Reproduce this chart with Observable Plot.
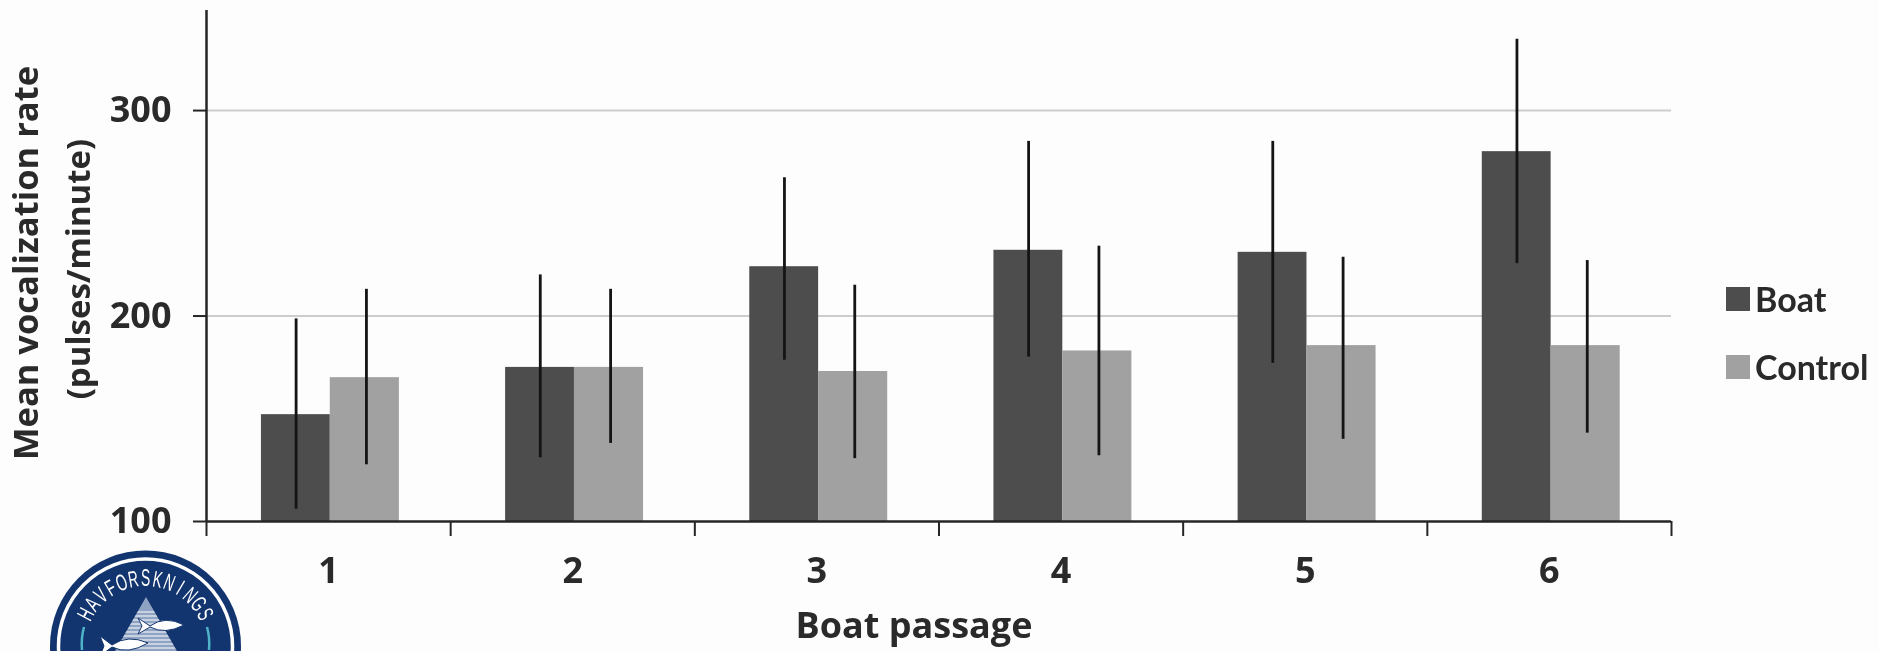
<!DOCTYPE html>
<html>
<head>
<meta charset="utf-8">
<script src="https://cdn.jsdelivr.net/npm/d3@7"></script>
<script src="https://cdn.jsdelivr.net/npm/@observablehq/plot@0.6"></script>
<style>
html,body{margin:0;padding:0;background:#fdfdfd;overflow:hidden}
#wrap{position:relative;width:1879px;height:651px;font-family:Lato,sans-serif;color:#2a2a2a}
#chart svg{display:block;background:transparent;filter:blur(.6px)}
.lg{position:absolute;left:1726px;display:flex;align-items:center;gap:5px;font-size:34px;font-weight:700;line-height:1;filter:blur(.5px)}
.lg i{display:block;width:24px;height:24px}
#logo{position:absolute;left:0;top:0;filter:blur(.6px)}
</style>
</head>
<body>
<div id="wrap">
<div id="chart"></div>
<div class="lg" id="lg0" style="top:282px"></div>
<div class="lg" id="lg1" style="top:350px"></div>
<svg id="logo" width="300" height="651" viewBox="0 0 300 651">
  <defs>
    <clipPath id="tri"><path d="M146 597 L205 700 L87 700 Z"/></clipPath>
  </defs>
  <circle cx="145.5" cy="646" r="95.5" fill="#13356f"/>
  <circle cx="145.5" cy="646" r="87" fill="none" stroke="#fff" stroke-width="3.5"/>
  <path d="M 82 650 A 64 64 0 0 1 84 627" fill="none" stroke="#4fb3c8" stroke-width="2.5"/>
  <path d="M 209 650 A 64 64 0 0 0 207 627" fill="none" stroke="#4fb3c8" stroke-width="2.5"/>
  <g id="logoText" font-family="'Liberation Sans',sans-serif" font-size="23" fill="#fff" text-anchor="middle"></g>
  <g clip-path="url(#tri)">
    <rect x="80" y="595" width="130" height="60" fill="#8fa3c2"/>
    <g stroke="#fff" stroke-width="1.2">
      <path d="M80 612H210M80 616H210M80 620H210M80 624H210M80 628H210M80 632H210M80 636H210M80 640H210M80 644H210M80 648H210"/>
    </g>
  </g>
  <path d="M138 618 L150 626 Q165 615 184 625 Q165 635 150 627 L138 634 L142 626 Z" fill="#fff" stroke="#13356f" stroke-width="1"/>
  <path d="M100 636 L112 645 Q128 634 148 643 Q128 655 112 647 L100 656 L104 646 Z" fill="#fff" stroke="#13356f" stroke-width="1"/>
</svg>
</div>
<script>
const passages = ["1", "2", "3", "4", "5", "6"];
const series = ["Boat", "Control"];
const boatMean = [152, 175, 224, 232, 231, 280];
const boatLow = [106, 131, 178.5, 180, 177, 225.5];
const boatHigh = [198.6, 220, 267.3, 285, 285, 334.7];
const controlMean = [170, 175, 173, 183, 185.6, 185.6];
const controlLow = [127.6, 138, 130.6, 132, 140, 143];
const controlHigh = [213, 213, 215, 234, 228.6, 227];
const gridValues = [200, 300];
const yTicks = [100, 200, 300];
const colors = ["#4d4d4d", "#a1a1a1"];
const textColor = "#2a2a2a";
const axisColor = "#262626";
const logoWord = "HAVFORSKNINGS";

const rows = passages.map((p, i) => ({
  i, boatMean: boatMean[i], boatLow: boatLow[i], boatHigh: boatHigh[i],
  controlMean: controlMean[i], controlLow: controlLow[i], controlHigh: controlHigh[i]
}));
const boundaries = d3.range(passages.length + 1);
const centers = passages.map((p, i) => i + 0.5);
const font = {fontFamily: "'Open Sans', sans-serif", fontSize: 36, fontWeight: 700, fill: textColor};

const plot = Plot.plot({
  width: 1879, height: 651,
  marginLeft: 206, marginRight: 208, marginTop: 10, marginBottom: 130,
  x: {domain: [0, passages.length], axis: null},
  y: {domain: [100, 348.7], axis: null},
  style: {fontFamily: "'Open Sans', sans-serif", background: "transparent"},
  marks: [
    Plot.ruleY(gridValues, {stroke: "#cdcdcd", strokeWidth: 2}),
    Plot.rectY(rows, {x1: d => d.i + 0.225, x2: d => d.i + 0.507, y1: 100, y2: "boatMean", fill: colors[0], inset: 0}),
    Plot.rectY(rows, {x1: d => d.i + 0.507, x2: d => d.i + 0.79, y1: 100, y2: "controlMean", fill: colors[1], inset: 0}),
    Plot.ruleX(rows, {x: d => d.i + 0.367, y1: "boatLow", y2: "boatHigh", stroke: "#141414", strokeWidth: 2.8}),
    Plot.ruleX(rows, {x: d => d.i + 0.655, y1: "controlLow", y2: "controlHigh", stroke: "#141414", strokeWidth: 2.8}),
    Plot.ruleY([100], {stroke: axisColor, strokeWidth: 2.5}),
    Plot.axisY({ticks: yTicks, tickSize: 13, tickPadding: 22, stroke: axisColor, strokeWidth: 2, label: null, ...font}),
    Plot.ruleX([0], {stroke: axisColor, strokeWidth: 2.5}),
    Plot.axisX({ticks: boundaries, tickSize: 15, tickFormat: () => "", stroke: axisColor, strokeWidth: 2, label: null}),
    Plot.axisX({ticks: centers, tickSize: 0, tickPadding: 36, tickFormat: (d, i) => passages[i], label: null, ...font}),
    Plot.text(["Boat passage"], {frameAnchor: "bottom", lineAnchor: "middle", dx: -25, dy: 105, ...font, fontSize: 36}),
    Plot.text(["Mean vocalization rate"], {frameAnchor: "left", textAnchor: "middle", rotate: -90, dx: -180, dy: -3, ...font, fontSize: 34.5}),
    Plot.text(["(pulses/minute)"], {frameAnchor: "left", textAnchor: "middle", rotate: -90, dx: -127, dy: 3, ...font, fontSize: 33})
  ]
});
document.getElementById("chart").append(plot);
series.forEach((s, i) => {
  const el = document.getElementById("lg" + i);
  const sw = document.createElement("i");
  sw.style.background = colors[i];
  el.append(sw, document.createTextNode(s));
});
// Curved wordmark of the logo, one letter at a time so it can be condensed.
const ns = "http://www.w3.org/2000/svg";
const group = document.getElementById("logoText");
[...logoWord].forEach((ch, i) => {
  const a = -62 + 124 * i / (logoWord.length - 1);
  const t = document.createElementNS(ns, "text");
  t.textContent = ch;
  t.setAttribute("transform", `translate(145.5 646) rotate(${a}) translate(0 -60) scale(.6 1)`);
  group.append(t);
});
</script>
</body>
</html>
